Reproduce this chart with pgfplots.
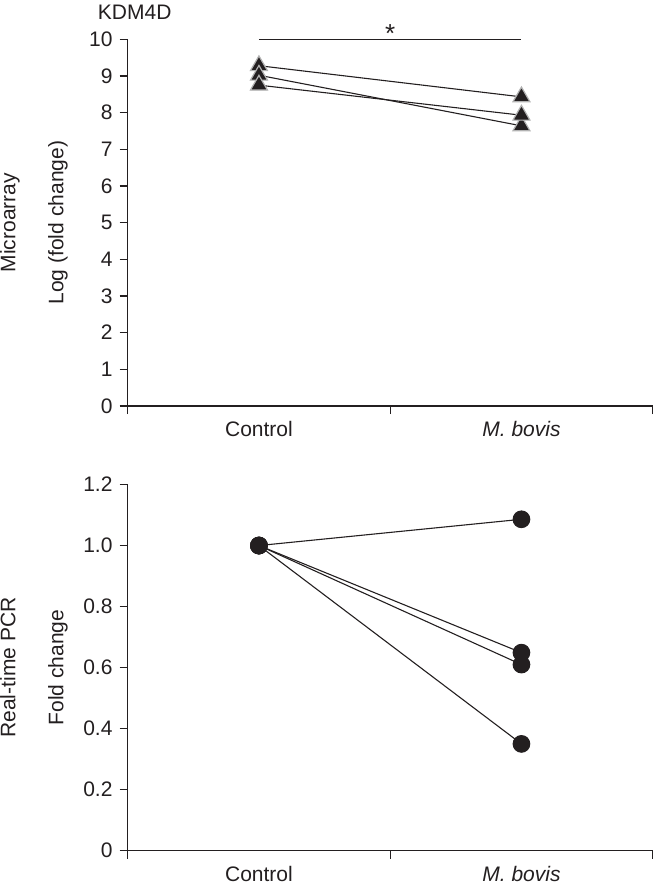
\documentclass[border=0pt]{standalone}
\usepackage{fontspec}
\setmainfont{Liberation Sans}
\usepackage{pgfplots}
\pgfplotsset{compat=1.18}
\definecolor{ink}{HTML}{231F20}
\pgfplotsset{
  panel/.style={
    scale only axis, width=525pt, xmin=0, xmax=2, enlargelimits=false, clip=false,
    axis x line=bottom, axis y line=left,
    axis line style={-, ink, line width=1.3pt},
    tick align=outside, major tick length=8pt,
    tick style={ink, line width=1.2pt},
    xtick={0,1,2}, xticklabels={},
    extra x ticks={0.5,1.5},
    extra x tick labels={Control,\textit{M. bovis}},
    extra x tick style={tick style={draw=none}, xticklabel style={yshift=-0.5pt}},
    ticklabel style={text=ink},
    /pgf/number format/assume math mode=true,
    ylabel style={at={(axis description cs:-0.1785,0.5)}, anchor=center, rotate=0, align=center, text=ink},
  },
  tri/.style={ink, line width=1.1pt, mark=triangle*, mark size=9.8pt, mark options={fill=ink, draw=gray!60, line width=1.2pt, solid}},
  dot/.style={ink, line width=1.1pt, mark=*, mark size=8.3pt, mark options={fill=ink, draw=ink, solid}},
}
\begin{document}
\fontsize{21}{24}\selectfont
\begin{tikzpicture}[x=1pt,y=1pt]
\useasboundingbox (0,0) rectangle (654,-883);
\begin{axis}[panel, at={(127.7pt,-406pt)}, anchor=south west, height=366.7pt,
  ymin=0, ymax=10, ytick={0,1,...,10},
  ylabel={Microarray\\[24pt]Log (fold change)}]
\node[anchor=base, text=ink, xshift=7pt, yshift=20pt] at (rel axis cs:0,1) {KDM4D};
\addplot[ink, line width=1.1pt] coordinates {(0.5,10) (1.5,10)};
\node[anchor=base, text=ink] at (axis cs:1,10) {\fontsize{26}{28}\selectfont\raisebox{-3pt}{*}};
\addplot[tri] coordinates {(0.5,9.28) (1.5,8.43)};
\addplot[tri] coordinates {(0.5,9.02) (1.5,7.64)};
\addplot[tri] coordinates {(0.5,8.75) (1.5,7.93)};
\end{axis}
\begin{axis}[panel, at={(127.7pt,-850.7pt)}, anchor=south west, height=366.2pt,
  ymin=0, ymax=1.2, ytick={0,0.2,0.4,0.6,0.8,1.0,1.2},
  yticklabels={0,0.2,0.4,0.6,0.8,1.0,1.2},
  ylabel={Real-time PCR\\[24pt]Fold change}]
\addplot[dot] coordinates {(0.5,1.0) (1.5,1.086)};
\addplot[dot] coordinates {(0.5,1.0) (1.5,0.649)};
\addplot[dot] coordinates {(0.5,1.0) (1.5,0.610)};
\addplot[dot] coordinates {(0.5,1.0) (1.5,0.350)};
\end{axis}
\end{tikzpicture}
\end{document}
